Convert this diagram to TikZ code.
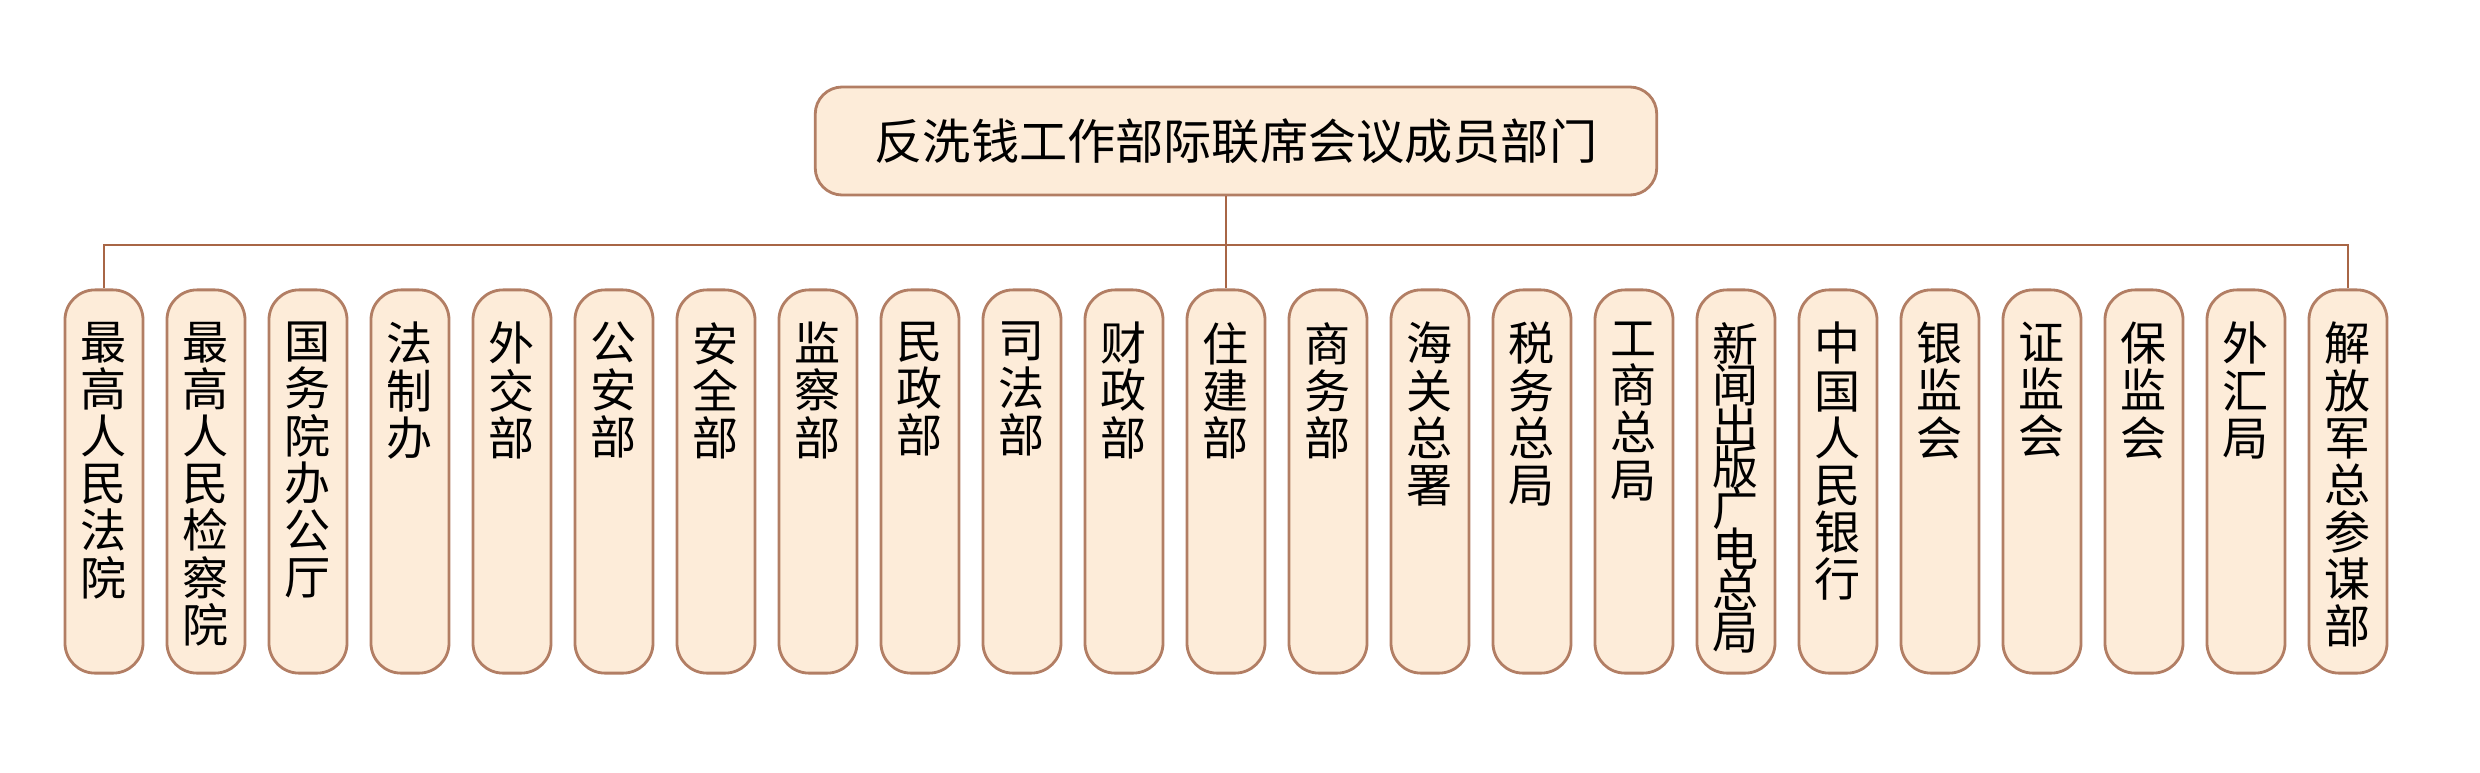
\documentclass[tikz,border=0pt]{standalone}
\usepackage{fontspec}
\newfontfamily\cjk{Noto Sans CJK SC}
\newcommand\tightskip{\setlength{\lineskiplimit}{-20pt}}
\definecolor{boxfill}{RGB}{253,236,217}
\definecolor{boxline}{RGB}{178,126,100}
\definecolor{linkline}{RGB}{168,102,70}
\tikzset{
  dept/.style={draw=boxline, fill=boxfill, line width=0.8pt, rounded corners=0.3cm,
    minimum width=0.78cm, minimum height=3.83cm, inner sep=0pt},
  deptname/.style={anchor=north, inner sep=0pt, yshift=-0.33cm, align=center,
    font=\cjk\fontsize{13.1pt}{13.4pt}\selectfont},
  link/.style={draw=linkline, line width=0.6pt}
}
\begin{document}
\begin{tikzpicture}[x=0.01cm, y=-0.01cm]
                \useasboundingbox (0,0) rectangle (2480,772);
                \node[dept, minimum width=8.41cm, minimum height=1.08cm, rounded corners=0.27cm,
                  font=\cjk\fontsize{13.7pt}{14pt}\selectfont] (head) at (1236,141) {反洗钱工作部际联席会议成员部门};

                \node[dept, label={[deptname]north:最\\高\\人\\民\\法\\院}] (fy) at (104,481.5) {};
                \node[dept, label={[deptname]north:最\\高\\人\\民\\检\\察\\院}] (jcy) at (206,481.5) {};
                \node[dept, label={[deptname]north:国\\务\\院\\办\\公\\厅}] (gwy) at (308,481.5) {};
                \node[dept, label={[deptname]north:法\\制\\办}] (fzb) at (410,481.5) {};
                \node[dept, label={[deptname]north:外\\交\\部}] (wjb) at (512,481.5) {};
                \node[dept, label={[deptname]north:公\\安\\部}] (gab) at (614,481.5) {};
                \node[dept, label={[deptname]north:安\\全\\部}] (aqb) at (716,481.5) {};
                \node[dept, label={[deptname]north:监\\察\\部}] (jcb) at (818,481.5) {};
                \node[dept, label={[deptname]north:民\\政\\部}] (mzb) at (920,481.5) {};
                \node[dept, label={[deptname]north:司\\法\\部}] (sfb) at (1022,481.5) {};
                \node[dept, label={[deptname]north:财\\政\\部}] (czb) at (1124,481.5) {};
                \node[dept, label={[deptname]north:住\\建\\部}] (zjb) at (1226,481.5) {};
                \node[dept, label={[deptname]north:商\\务\\部}] (swb) at (1328,481.5) {};
                \node[dept, label={[deptname]north:海\\关\\总\\署}] (hgzs) at (1430,481.5) {};
                \node[dept, label={[deptname]north:税\\务\\总\\局}] (swzj) at (1532,481.5) {};
                \node[dept, label={[deptname]north:工\\商\\总\\局}] (gszj) at (1634,481.5) {};
                \node[dept, label={[deptname, font=\cjk\fontsize{13.1pt}{11.7pt}\selectfont\tightskip]north:新\\闻\\出\\版\\广\\电\\总\\局}] (gdzj) at (1736,481.5) {};
                \node[dept, label={[deptname]north:中\\国\\人\\民\\银\\行}] (rmyh) at (1838,481.5) {};
                \node[dept, label={[deptname]north:银\\监\\会}] (yjh) at (1940,481.5) {};
                \node[dept, label={[deptname]north:证\\监\\会}] (zjh) at (2042,481.5) {};
                \node[dept, label={[deptname]north:保\\监\\会}] (bjh) at (2144,481.5) {};
                \node[dept, label={[deptname]north:外\\汇\\局}] (whj) at (2246,481.5) {};
                \node[dept, label={[deptname]north:解\\放\\军\\总\\参\\谋\\部}] (zcb) at (2348,481.5) {};

                \coordinate (bus) at (0,245);
                \draw[link] (head.south -| zjb.north) -- (zjb.north);
                \draw[link] (fy.north) -- (fy.north |- bus) -- (zcb.north |- bus) -- (zcb.north);
\end{tikzpicture}
\end{document}
